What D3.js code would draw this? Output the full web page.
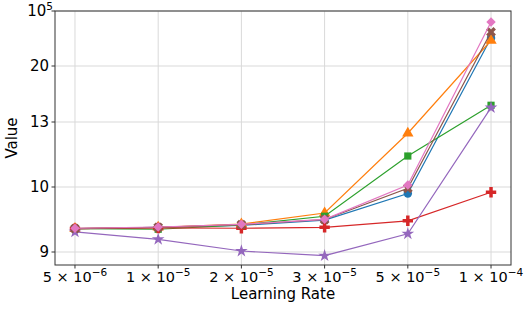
<!DOCTYPE html>
<html>
<head>
<meta charset="utf-8">
<script src="https://cdn.jsdelivr.net/npm/d3@7"></script>
<style>
  body { margin: 0; background: #fff; }
  text { font-family: "DejaVu Sans", sans-serif; fill: #000; }
</style>
</head>
<body>
<div id="chart"></div>
<script>
// data
var learningRates = ["5e-6", "1e-5", "2e-5", "3e-5", "5e-5", "1e-4"];
var xTickMant = ["5", "1", "2", "3", "5", "1"];
var xTickExp = ["\u22126", "\u22125", "\u22125", "\u22125", "\u22125", "\u22124"];
var yTickVals = [9, 10, 13, 20, 100000];
var yTickText = ["9", "10", "13", "20", "10"];

var blueVals   = [9.36, 9.38, 9.41, 9.49, 9.90, 50900];
var orangeVals = [9.36, 9.38, 9.43, 9.60, 12.48, 46400];
var greenVals  = [9.36, 9.35, 9.415, 9.55, 11.43, 15.09];
var redVals    = [9.36, 9.37, 9.365, 9.38, 9.48, 9.92];
var purpleVals = [9.31, 9.195, 9.015, 8.943, 9.28, 14.79];
var brownVals  = [9.36, 9.38, 9.42, 9.50, 9.98, 61800];
var pinkVals   = [9.365, 9.385, 9.426, 9.503, 10.09, 80000];

var seriesList = [
  {vals: blueVals,   color: "#1f77b4", sym: "circle"},
  {vals: orangeVals, color: "#ff7f0e", sym: "triangle"},
  {vals: greenVals,  color: "#2ca02c", sym: "square"},
  {vals: redVals,    color: "#d62728", sym: "plus"},
  {vals: purpleVals, color: "#9467bd", sym: "star"},
  {vals: brownVals,  color: "#8c564b", sym: "x"},
  {vals: pinkVals,   color: "#e377c2", sym: "diamond"}
];

//////////////////////////////////////////////////
//               LAYOUT                          //
//////////////////////////////////////////////////
var width = 532, height = 310;
var plot = {left: 55, right: 511, top: 11, bottom: 265};

var svg = d3.select("#chart").append("svg")
  .attr("width", width)
  .attr("height", height);

var x = d3.scalePoint()
  .domain(learningRates)
  .range([plot.left, plot.right])
  .padding(0.24);

// odd axis: ticks are evenly-ish spaced, so use a piecewise scale
var y = d3.scaleLinear()
  .domain(yTickVals)
  .range([252, 187, 122, 66, 11]);

// grid
svg.append("g").selectAll("line.vg")
  .data(learningRates).enter().append("line")
  .attr("x1", d => x(d)).attr("x2", d => x(d))
  .attr("y1", plot.top).attr("y2", plot.bottom)
  .attr("stroke", "#d9d9d9").attr("stroke-width", 1);

svg.append("g").selectAll("line.hg")
  .data(yTickVals).enter().append("line")
  .attr("x1", plot.left).attr("x2", plot.right)
  .attr("y1", d => y(d)).attr("y2", d => y(d))
  .attr("stroke", "#d9d9d9").attr("stroke-width", 1);

// lines + markers
var line = d3.line()
  .x((d, i) => x(learningRates[i]))
  .y(d => y(d));

function symbolFor(name) {
  var s = 56;
  if (name == "circle") return {t: d3.symbolCircle, s: s, r: 0};
  if (name == "triangle") return {t: d3.symbolTriangle, s: s, r: 0};
  if (name == "square") return {t: d3.symbolSquare, s: 52, r: 0};
  if (name == "plus") return {t: d3.symbolCross, s: 60, r: 0};
  if (name == "star") return {t: d3.symbolStar, s: 50, r: 0};
  if (name == "x") return {t: d3.symbolCross, s: 60, r: 45};
  return {t: d3.symbolSquare, s: 44, r: 45};
}

seriesList.forEach(function (ser) {
  svg.append("path")
    .datum(ser.vals)
    .attr("d", line)
    .attr("fill", "none")
    .attr("stroke", ser.color)
    .attr("stroke-width", 1.2);

  var sy = symbolFor(ser.sym);
  svg.append("g").selectAll("path")
    .data(ser.vals).enter().append("path")
    .attr("d", d3.symbol().type(sy.t).size(sy.s))
    .attr("transform", (d, i) => "translate(" + x(learningRates[i]) + "," + y(d) + ") rotate(" + sy.r + ")")
    .attr("fill", ser.color);
});

// frame
svg.append("rect")
  .attr("x", plot.left).attr("y", plot.top)
  .attr("width", plot.right - plot.left)
  .attr("height", plot.bottom - plot.top)
  .attr("fill", "none")
  .attr("stroke", "#333").attr("stroke-width", 1);

// x ticks
var xt = svg.append("g").selectAll("g")
  .data(learningRates).enter().append("g")
  .attr("transform", d => "translate(" + x(d) + "," + plot.bottom + ")");
xt.append("line").attr("y2", 3.5).attr("stroke", "#333");
var xtext = xt.append("text")
  .attr("y", 17)
  .attr("text-anchor", "middle")
  .style("font-size", "14.5px");
xtext.append("tspan").text((d, i) => xTickMant[i] + " \u00d7 10");
xtext.append("tspan")
  .attr("dy", -6)
  .style("font-size", "10.5px")
  .text((d, i) => xTickExp[i]);

// y ticks
var yt = svg.append("g").selectAll("g")
  .data(yTickVals).enter().append("g")
  .attr("transform", d => "translate(" + plot.left + "," + y(d) + ")");
yt.append("line").attr("x2", -3.5).attr("stroke", "#333");
var ytext = yt.append("text")
  .attr("x", -6)
  .attr("dy", "0.35em")
  .attr("text-anchor", "end")
  .style("font-size", "15px");
ytext.append("tspan").text((d, i) => yTickText[i]);
ytext.filter(d => d == 100000).append("tspan")
  .attr("dy", -6)
  .style("font-size", "10.5px")
  .text("5");
// nudge the 10^5 label so the superscript ends at the tick
ytext.filter(d => d == 100000).attr("x", -2);

// axis titles
svg.append("text")
  .attr("x", (plot.left + plot.right) / 2)
  .attr("y", 299)
  .attr("text-anchor", "middle")
  .style("font-size", "15px")
  .text("Learning Rate");

svg.append("text")
  .attr("transform", "translate(17," + ((plot.top + plot.bottom) / 2) + ") rotate(-90)")
  .attr("text-anchor", "middle")
  .style("font-size", "15px")
  .text("Value");
</script>
</body>
</html>
